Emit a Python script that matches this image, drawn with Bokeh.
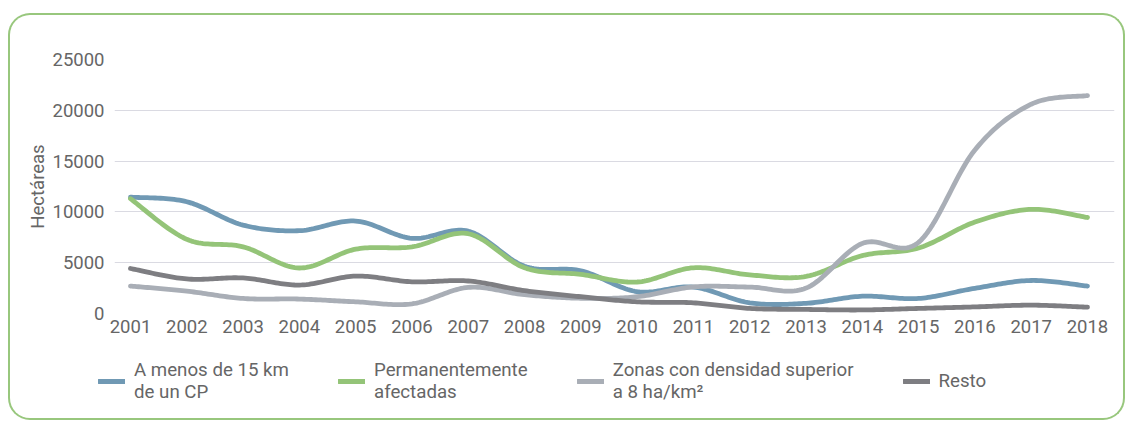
import numpy as np
from bokeh.plotting import figure
from bokeh.layouts import column, row
from bokeh.models import Legend, LegendItem, Range1d, FixedTicker
from bokeh.embed import file_html
from bokeh.resources import INLINE

years = list(range(2001, 2019))
year_labels = [str(y) for y in years]
y_ticks = [0, 5000, 10000, 15000, 20000, 25000]

cerca_cp = [11450, 11000, 8700, 8150, 9100, 7400, 8100, 4650, 4200, 2150,
            2600, 1050, 1000, 1700, 1480, 2480, 3250, 2700]
permanentes = [11300, 7300, 6560, 4480, 6330, 6560, 7850, 4500, 3850, 3100,
               4500, 3800, 3650, 5700, 6450, 9000, 10250, 9450]
alta_densidad = [2700, 2200, 1480, 1420, 1150, 950, 2570, 1850, 1500, 1650,
                 2620, 2600, 2500, 6900, 7000, 16100, 20600, 21450]
resto = [4430, 3400, 3500, 2800, 3680, 3120, 3200, 2250, 1650, 1150,
         1050, 500, 400, 350, 500, 650, 820, 620]

series_names = ["A menos de 15 km\nde un CP", "Permanentemente\nafectadas",
                "Zonas con densidad superior\na 8 ha/km\u00b2", "Resto"]
series_values = [cerca_cp, permanentes, alta_densidad, resto]
colors = ["#7099b4", "#94c478", "#a9aeb6", "#7e7e82"]

FONT = "Roboto"
TXT = "#666666"
FRAME = "2px solid #98c77d"
LW = 4.8


def smooth(xs, ys, n=24):
    """Catmull-Rom style Bezier smoothing (as in spreadsheet 'smoothed line')."""
    xs = np.asarray(xs, float)
    ys = np.asarray(ys, float)
    px = np.concatenate([[xs[0]], xs, [xs[-1]]])
    py = np.concatenate([[ys[0]], ys, [ys[-1]]])
    ox, oy = [], []
    t = np.linspace(0, 1, n, endpoint=False)
    for i in range(1, len(px) - 2):
        p0x, p1x, p2x, p3x = px[i - 1], px[i], px[i + 1], px[i + 2]
        p0y, p1y, p2y, p3y = py[i - 1], py[i], py[i + 1], py[i + 2]
        c1x, c1y = p1x + (p2x - p0x) / 6, p1y + (p2y - p0y) / 6
        c2x, c2y = p2x - (p3x - p1x) / 6, p2y - (p3y - p1y) / 6
        bx = (1 - t) ** 3 * p1x + 3 * (1 - t) ** 2 * t * c1x + 3 * (1 - t) * t ** 2 * c2x + t ** 3 * p2x
        by = (1 - t) ** 3 * p1y + 3 * (1 - t) ** 2 * t * c1y + 3 * (1 - t) * t ** 2 * c2y + t ** 3 * p2y
        ox.extend(bx)
        oy.extend(by)
    ox.append(xs[-1])
    oy.append(ys[-1])
    return ox, oy


# ---- main chart ----
chart = figure(width=1117, height=330,
               x_range=Range1d(2000.716, 2018.48), y_range=Range1d(0, 25000),
               output_backend="svg", toolbar_location=None,
               min_border_left=104, min_border_right=13, min_border_top=44, min_border_bottom=32,
               background_fill_color=None, border_fill_color=None, outline_line_color=None)
chart.styles = {"border-top": FRAME, "border-left": FRAME, "border-right": FRAME,
                "border-radius": "22px 22px 0 0"}

chart.xgrid.grid_line_color = None
chart.ygrid.grid_line_color = "#dadae2"
chart.ygrid.grid_line_width = 1.2

chart.xaxis.ticker = FixedTicker(ticks=years)
chart.xaxis.major_label_overrides = {y: s for y, s in zip(years, year_labels)}
chart.yaxis.ticker = FixedTicker(ticks=y_ticks)
for ax in (chart.xaxis[0], chart.yaxis[0]):
    ax.axis_line_color = None
    ax.major_tick_line_color = None
    ax.minor_tick_line_color = None
    ax.major_tick_out = 0
    ax.major_tick_in = 0
    ax.major_label_text_font = FONT
    ax.major_label_text_font_size = "18.5px"
    ax.major_label_text_color = TXT
chart.xaxis.major_label_standoff = 6
chart.yaxis.major_label_standoff = 10
chart.yaxis.axis_label = "Hectáreas"
chart.yaxis.axis_label_text_font = FONT
chart.yaxis.axis_label_text_font_size = "18.5px"
chart.yaxis.axis_label_text_font_style = "normal"
chart.yaxis.axis_label_text_color = TXT
chart.yaxis.axis_label_standoff = 1

for vals, col in zip(series_values, colors):
    sx, sy = smooth(years, vals)
    chart.line(sx, sy, line_color=col, line_width=LW, line_cap="round", line_join="round")

# ---- legend strip (its lines lie outside its own view; only the legend shows) ----
lp = figure(width=1117, height=77, x_range=Range1d(0, 1), y_range=Range1d(0, 1),
            output_backend="svg", toolbar_location=None,
            x_axis_location=None, y_axis_location=None,
            min_border=0, background_fill_color=None, border_fill_color=None,
            outline_line_color=None)
lp.styles = {"border-bottom": FRAME, "border-left": FRAME, "border-right": FRAME,
             "border-radius": "0 0 22px 22px"}
lp.xgrid.visible = False
lp.ygrid.visible = False

items = []
for name, vals, col in zip(series_names, series_values, colors):
    r = lp.line(years, vals, line_color=col, line_width=LW, line_cap="round")
    items.append(LegendItem(label=name, renderers=[r]))

legend = Legend(items=items, orientation="horizontal", location=(88, 17),
                glyph_width=27, glyph_height=20, label_standoff=9, spacing=49,
                padding=0, margin=0, border_line_color=None, background_fill_color=None,
                label_text_font=FONT, label_text_font_size="18.7px", label_text_color=TXT,
                label_text_line_height=1.15)
lp.add_layout(legend, "center")

p = column(chart, row(lp), spacing=0, styles={"margin-left": "8px", "margin-top": "13px"})

open("out.html", "w").write(file_html(p, INLINE))
